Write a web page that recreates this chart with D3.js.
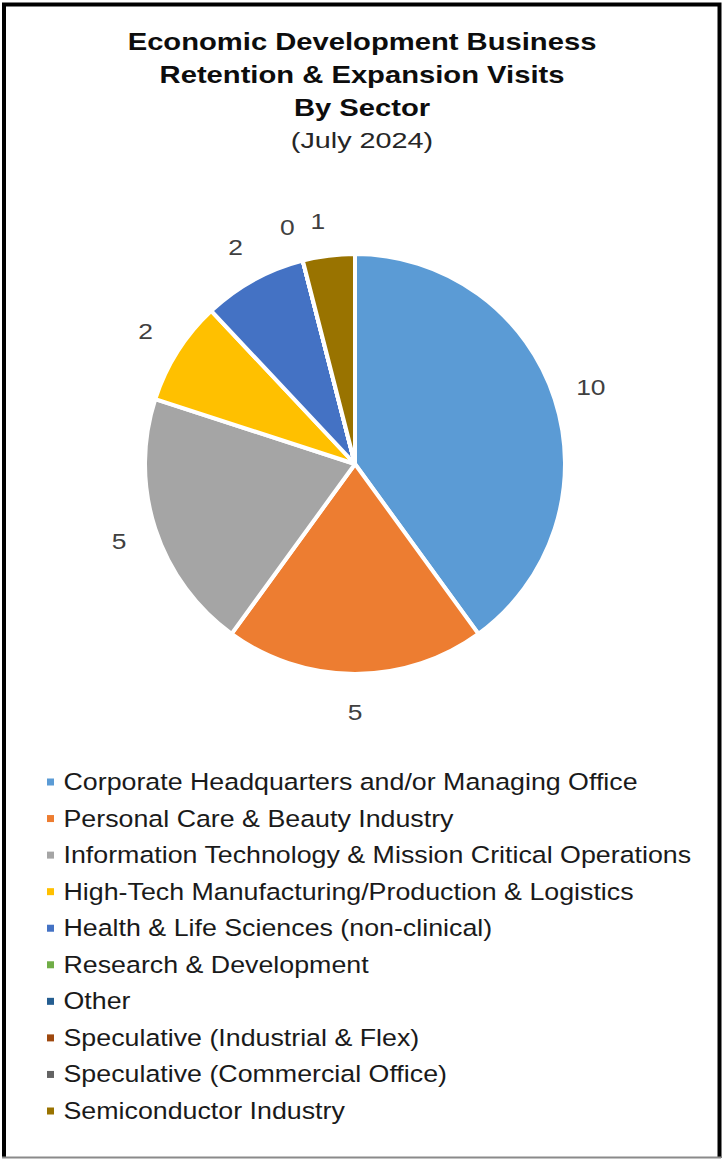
<!DOCTYPE html>
<html>
<head>
<meta charset="utf-8">
<script src="https://cdn.jsdelivr.net/npm/d3@7"></script>
<style>
  html, body { margin: 0; padding: 0; background: #fff; }
  svg { display: block; }
  text { font-family: "Liberation Sans", Arial, sans-serif; }
</style>
</head>
<body>
<svg id="chart" width="722" height="1160"></svg>
<script>
// Sector categories, visit counts and slice colours
const sectors = [
  "Corporate Headquarters and/or Managing Office",
  "Personal Care & Beauty Industry",
  "Information Technology & Mission Critical Operations",
  "High-Tech Manufacturing/Production & Logistics",
  "Health & Life Sciences (non-clinical)",
  "Research & Development",
  "Other",
  "Speculative (Industrial & Flex)",
  "Speculative (Commercial Office)",
  "Semiconductor Industry"
];
const visits = [10, 5, 5, 2, 2, 0, 0, 0, 0, 1];
const colors = ["#5B9BD5", "#ED7D31", "#A5A5A5", "#FFC000", "#4472C4",
                "#70AD47", "#255E91", "#9E480E", "#636363", "#997300"];
const titleLines = ["Economic Development Business", "Retention & Expansion Visits", "By Sector"];
const subtitle = "(July 2024)";

const W = 722, H = 1160;
const svg = d3.select("#chart");

// frame
svg.append("rect").attr("x", 0).attr("y", 0).attr("width", W).attr("height", H).attr("fill", "#fff");
svg.append("path")
  .attr("d", `M4,1158 L4,4.5 L719.5,4.5 L719.5,1158`)
  .attr("fill", "none").attr("stroke", "#000").attr("stroke-width", 4);
svg.append("line").attr("x1", 2).attr("x2", 721).attr("y1", 1157.5).attr("y2", 1157.5)
  .attr("stroke", "#8a8a8a").attr("stroke-width", 2);

// horizontally stretched text helper
function stretchedText(g, x, y, str, sx, anchor) {
  return g.append("text")
    .attr("transform", `translate(${x},${y}) scale(${sx},1)`)
    .attr("text-anchor", anchor || "middle")
    .text(str);
}

// title
const cx = 362;
const tg = svg.append("g").attr("font-weight", "bold").attr("font-size", 23).attr("fill", "#0d0d0d");
const titleY = d3.scaleLinear().domain([0, 2]).range([49.5, 115.5]);
titleLines.forEach((t, i) => stretchedText(tg, cx, titleY(i), t, 1.27));
const sg = svg.append("g").attr("font-size", 22.5).attr("fill", "#262626");
stretchedText(sg, cx, 147.5, subtitle, 1.28);

// pie
const pcx = 355, pcy = 464, r = 210;
const pie = d3.pie().sort(null).value(d => d.v);
const data = sectors.map((s, i) => ({ name: s, v: visits[i], color: colors[i] }));
const arcs = pie(data);
const arc = d3.arc().innerRadius(0).outerRadius(r);
const pg = svg.append("g").attr("transform", `translate(${pcx},${pcy})`);
pg.selectAll("path.slice").data(arcs).join("path")
  .attr("class", "slice")
  .attr("d", arc)
  .attr("fill", d => d.data.color)
  .attr("stroke", "#fff").attr("stroke-width", 4).attr("stroke-linejoin", "round");

// data labels outside each slice (zero slices sharing one position get a single label)
const labelArc = d3.arc().innerRadius(248).outerRadius(248);
const shown = arcs.filter((d, i) => !(d.data.v === 0 && i > 0 && arcs[i - 1].data.v === 0));
const lg = pg.append("g").attr("font-size", 22).attr("fill", "#404040");
shown.forEach(d => {
  const [x, y] = labelArc.centroid(d);
  // narrow slices near the top are nudged left/down to keep their labels apart
  const small = d.endAngle - d.startAngle < 0.3;
  stretchedText(lg, x - (small ? 6 : 0), y + 8 + (small ? 3 : 0), String(d.data.v), 1.2);
});

// legend
const legY = d3.scalePoint().domain(sectors).range([790, 1119]);
const leg = svg.append("g");
const rows = leg.selectAll("g").data(data).join("g")
  .attr("transform", d => `translate(0,${legY(d.name)})`);
rows.append("rect").attr("x", 47).attr("y", -11.5).attr("width", 7).attr("height", 7)
  .attr("fill", d => d.color);
rows.each(function(d) {
  const g = d3.select(this).append("g").attr("font-size", 23.5).attr("fill", "#1a1a1a");
  stretchedText(g, 63.5, 0, d.name, 1.14, "start");
});
</script>
</body>
</html>
